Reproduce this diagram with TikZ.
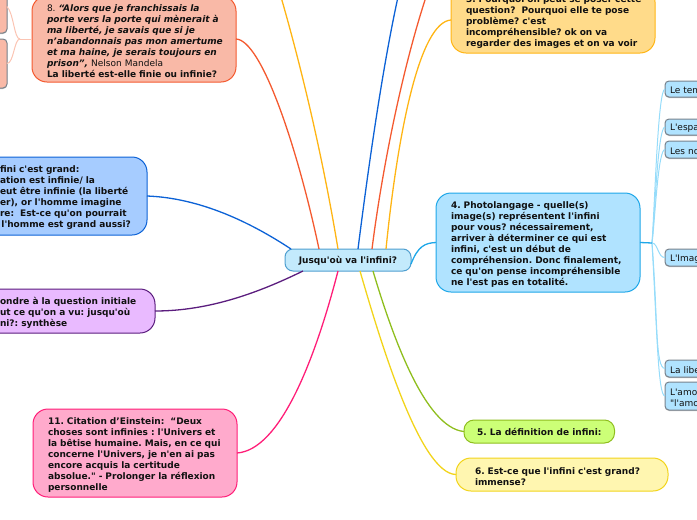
\documentclass[tikz,border=0pt]{standalone}
\usepackage{fontspec}
\setmainfont{DejaVu Sans}[Ligatures=TeXOff]
\usetikzlibrary{shadows}
\definecolor{rootfill}{RGB}{195,234,252}
\definecolor{rootline}{RGB}{79,159,208}
\definecolor{redfill}{RGB}{249,185,167}
\definecolor{redline}{RGB}{244,90,48}
\definecolor{bluefill}{RGB}{166,204,255}
\definecolor{blueline}{RGB}{12,98,214}
\definecolor{purplefill}{RGB}{233,186,255}
\definecolor{purpleline}{RGB}{91,29,126}
\definecolor{pinkfill}{RGB}{255,170,204}
\definecolor{pinkline}{RGB}{255,30,120}
\definecolor{amberfill}{RGB}{255,219,138}
\definecolor{amberline}{RGB}{255,181,20}
\definecolor{cyanfill}{RGB}{176,227,255}
\definecolor{cyanline}{RGB}{30,167,232}
\definecolor{greenfill}{RGB}{204,255,119}
\definecolor{greenline}{RGB}{143,190,30}
\definecolor{yellowfill}{RGB}{255,246,176}
\definecolor{yellowline}{RGB}{242,212,27}
\definecolor{paleblue}{RGB}{150,220,250}
\definecolor{palered}{RGB}{251,196,179}
\definecolor{subline}{RGB}{120,130,140}
\definecolor{inkblack}{RGB}{17,17,17}
\tikzset{
  topicbox/.style={draw, line width=1pt, rounded corners=15pt, anchor=north west, outer sep=0pt,
    inner xsep=15pt, inner ysep=0pt, align=left, text=inkblack,
    font=\fontsize{9}{11}\selectfont\bfseries\frenchspacing},
  blockbox/.style={topicbox, execute at begin node={\rule{0pt}{10.5pt}}},
  widebox/.style={topicbox, inner xsep=13pt, text width=178pt,
    execute at begin node={\leftskip=2pt\relax\rule{0pt}{10.5pt}}},
  shortbox/.style={topicbox, text height=8pt, text depth=1pt},
  subbox/.style={draw=subline, line width=1pt, rounded corners=4pt, anchor=north west, outer sep=0pt,
    inner xsep=5pt, inner ysep=0pt, align=left, text=inkblack, text width=50pt,
    font=\fontsize{9}{11}\selectfont, execute at begin node={\rule{0pt}{9.5pt}},
    drop shadow={shadow xshift=0pt, shadow yshift=-1pt, fill=black, opacity=.25}},
  branch/.style={line width=1.3pt},
  twig/.style={line width=1pt}
}
\begin{document}
\begin{tikzpicture}[x=1pt,y=-1pt]
\clip (0,0) rectangle (697,520);
% central node
\node[shortbox, draw=rootline, fill=rootfill, rounded corners=8pt, inner xsep=8pt, minimum width=126pt, minimum height=22pt, align=center] (root) at (285,249) {Jusqu'où va l'infini?};

% left side
\node[widebox, draw=redline, fill=redfill, minimum height=86pt] (liberte) at (32,-4) {{\mdseries 8. }\textit{“Alors que je franchissais la\\porte vers la porte qui mènerait à\\ma liberté, je savais que si je\\n’abandonnais pas mon amertume\\et ma haine, je serais toujours en\\prison”,} {\mdseries Nelson Mandela}\\La liberté est-elle finie ou infinie?};
\node[blockbox, draw=blueline, fill=bluefill, text width=132pt, minimum height=78pt] (grand) at (-15,157) {fini c'est grand:\\ation est infinie/ la\\eut être infinie (la liberté\\er), or l'homme imagine\\re:\ \ Est-ce qu'on pourrait\\\hspace*{1.5pt}l'homme est grand aussi?};
\node[blockbox, draw=purpleline, fill=purplefill, text width=140pt, minimum height=44pt] (synthese) at (-15,289) {ondre à la question initiale\\ut ce qu'on a vu: jusqu'où\\ni?: synthèse};
\node[widebox, draw=pinkline, fill=pinkfill, minimum height=88pt] (einstein) at (33,409) {11. Citation d’Einstein:\ \ “Deux\\choses sont infinies : l'Univers et\\la bêtise humaine. Mais, en ce qui\\concerne l'Univers, je n'en ai pas\\encore acquis la certitude\\absolue." - Prolonger la réflexion\\personnelle};
\node[subbox, fill=redfill, text width=17pt, minimum height=53pt] (leftup) at (-20,-20) {};
\node[subbox, fill=redfill, text width=17pt, minimum height=49pt] (leftdown) at (-20,39) {};

% right side
\node[widebox, draw=amberline, fill=amberfill, minimum height=66pt] (pourquoi) at (451,-13) {3. Pourquoi on peut se poser cette\\question?\ \ Pourquoi elle te pose\\problème? c'est\\incompréhensible? ok on va\\regarder des images et on va voir};
\node[widebox, draw=cyanline, fill=cyanfill, minimum height=99pt] (photo) at (436,193) {4. Photolangage - quelle(s)\\image(s) représentent l'infini\\pour vous? nécessairement,\\arriver à déterminer ce qui est\\infini, c'est un début de\\compréhension. Donc finalement,\\ce qu'on pense incompréhensible\\ne l'est pas en totalité.};
\node[shortbox, draw=greenline, fill=greenfill, inner xsep=13pt, rounded corners=10pt, minimum width=149pt, minimum height=23pt] (definition) at (464,420) {5. La définition de infini:};
\node[blockbox, draw=yellowline, fill=yellowfill, inner xsep=19pt, text width=174pt, minimum height=33pt] (immense) at (456,458) {6. Est-ce que l'infini c'est grand?\\immense?};
\node[subbox, fill=cyanfill, minimum height=16pt] (temps) at (665,81) {Le tem};
\node[subbox, fill=cyanfill, minimum height=16pt] (espace) at (665,119) {L'espa};
\node[subbox, fill=cyanfill, minimum height=17pt] (nombres) at (665,141) {Les no};
\node[subbox, fill=cyanfill, minimum height=17pt] (imagin) at (665,249) {L'Imag};
\node[subbox, fill=cyanfill, minimum height=17pt] (libre) at (665,360) {La libe};
\node[subbox, fill=cyanfill, minimum height=28pt] (amour) at (665,382) {L'amo\\"l'amo};

% free ends above the page and forks
\coordinate (topamber) at (281,-3);
\coordinate (topblue) at (398,-3);
\coordinate (topred) at (426,-3);
\coordinate (forkleft) at (20,39);
\coordinate (forkright) at (652,243);

% connectors
\draw[branch, redline] (liberte.east) .. controls (262,40) and (298,150) .. ([xshift=-29pt]root.north);
\draw[branch, amberline] (topamber) .. controls (305,80) and (325,170) .. ([xshift=-10pt]root.north);
\draw[branch, blueline] (grand.east) .. controls (200,198) and (250,222) .. ([xshift=-57pt]root.north);
\draw[branch, blueline] ([xshift=10pt]root.north) .. controls (368,170) and (382,70) .. (topblue);
\draw[branch, redline] ([xshift=24pt]root.north) .. controls (382,170) and (402,70) .. (topred);
\draw[branch, amberline] ([xshift=38pt]root.north) .. controls (398,130) and (420,22) .. (pourquoi.west);
\draw[branch, cyanline] ([yshift=-4pt]root.east) .. controls (418,246) and (425,243) .. (photo.west);
\draw[branch, purpleline] (synthese.east) .. controls (210,311) and (260,292) .. ([xshift=-45pt]root.south);
\draw[branch, pinkline] (einstein.east) .. controls (280,450) and (315,360) .. ([xshift=-10pt]root.south);
\draw[branch, yellowline] ([xshift=12pt]root.south) .. controls (380,340) and (420,474) .. (immense.west);
\draw[branch, greenline] ([xshift=25pt]root.south) .. controls (392,335) and (425,428) .. (definition.west);

% small branches
\draw[twig, palered] (liberte.west) -- (forkleft);
\draw[twig, palered] (forkleft) .. controls (14,39) and (14,14) .. (leftup.east);
\draw[twig, palered] (forkleft) .. controls (14,39) and (14,63) .. (leftdown.east);
\draw[twig, paleblue] (forkright) .. controls (655,200) and (658,89) .. (temps.west);
\draw[twig, paleblue] (forkright) .. controls (655,210) and (658,127) .. (espace.west);
\draw[twig, paleblue] (forkright) .. controls (655,220) and (658,149) .. (nombres.west);
\draw[twig, paleblue] (forkright) .. controls (658,243) and (658,258) .. (imagin.west);
\draw[twig, paleblue] (forkright) .. controls (658,320) and (655,368) .. (libre.west);
\draw[twig, paleblue] (forkright) .. controls (657,330) and (658,396) .. (amour.west);
\draw[branch, cyanline] (photo.east) -- (forkright);
\end{tikzpicture}
\end{document}
